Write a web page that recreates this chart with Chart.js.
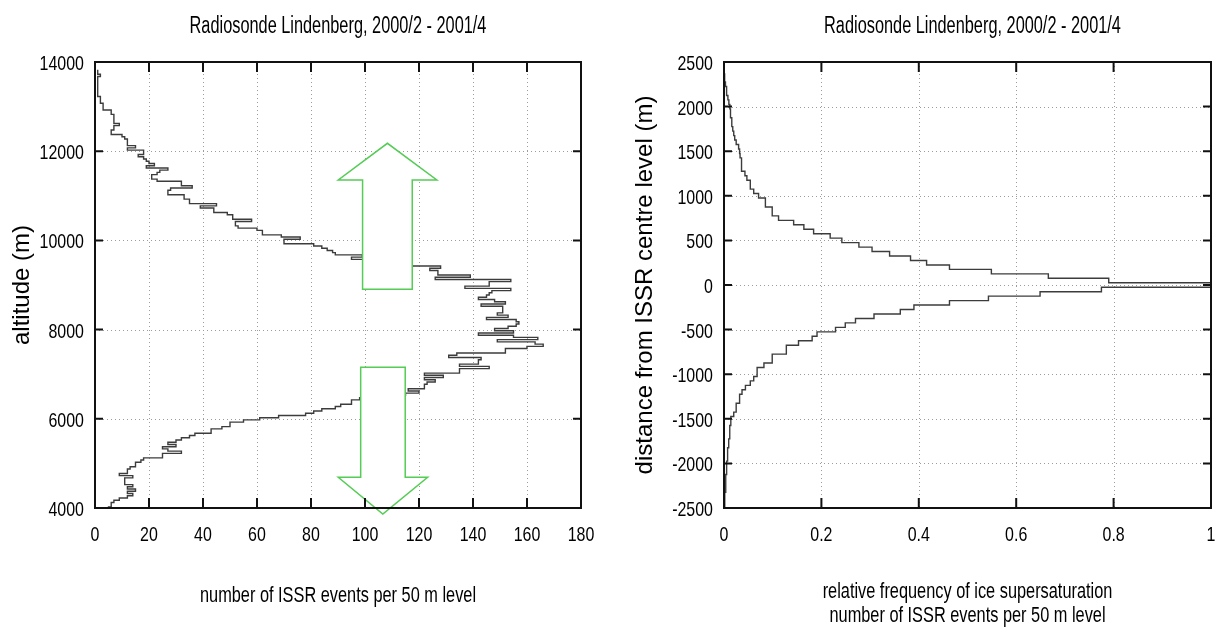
<!DOCTYPE html>
<html>
<head>
<meta charset="utf-8">
<script src="https://cdn.jsdelivr.net/npm/chart.js@4.4.1/dist/chart.umd.min.js"></script>
<style>
  html, body { margin: 0; padding: 0; background: #fff; }
  #wrap { position: relative; width: 1218px; height: 631px; overflow: hidden; }
  .box { position: absolute; top: 0; width: 609px; height: 631px; }
</style>
</head>
<body>
<div id="wrap">
  <div class="box" style="left:0"><canvas id="countChart" width="609" height="631"></canvas></div>
  <div class="box" style="left:609px"><canvas id="freqChart" width="609" height="631"></canvas></div>
</div>
<script>
// 50 m levels
const LEVEL_STEP = 50;

// Left panel: ISSR events per 50 m level, from 4000 m upwards
const countLevelStart = 4000;
const issrCounts = [
    5, 6, 6, 7, 9, 12, 14, 12, 15, 12, 14, 11, 11, 11, 14, 9, 12, 12, 13, 15,              // 4000-4950
    15, 17, 18, 25, 25, 32, 27, 25, 30, 27, 30, 32, 35, 37, 43, 43, 47, 50, 50, 55,        // 5000-5950
    61, 68, 78, 81, 84, 89, 91, 95, 95, 98, 110, 115, 120, 116, 122, 122, 123, 126, 122, 129, // 6000-6950
    122, 135, 135, 146, 135, 142, 142, 143, 131, 134, 152, 152, 160, 166, 163, 149, 164, 155, 142, 155, // 7000-7950
    148, 153, 156, 157, 156, 145, 153, 149, 151, 151, 151, 143, 152, 148, 142, 145, 146, 147, 154, 137, // 8000-8950
    146, 146, 154, 126, 139, 127, 127, 124, 128, 116, 108, 103, 95, 99, 89, 88, 86, 84, 81, 70,  // 9000-9950
    70, 76, 69, 62, 62, 60, 53, 52, 52, 58, 51, 51, 49, 44, 44, 39, 45, 35, 35, 33,        // 10000-10950
    33, 27, 27, 28, 36, 32, 32, 23, 21, 21, 23, 24, 27, 19, 22, 20, 19, 18, 16, 18,        // 11000-11950
    18, 12, 15, 12, 12, 12, 11, 10, 6, 6, 7, 7, 9, 7, 7, 7, 7, 6, 6, 3,                    // 12000-12950
    3, 3, 2, 2, 2, 1, 1, 1, 1, 1, 1, 1, 1, 1, 2, 1, 1                                      // 13000-13800
];

// Right panel: relative frequency of ice supersaturation vs distance from ISSR centre
const distLevelStart = -2500;
const relFreq = [
    0.001, 0.001, 0.002, 0.002, 0.003, 0.003, 0.004, 0.004, 0.005, 0.005,   // -2500..-2050
    0.006, 0.007, 0.007, 0.008, 0.009, 0.010, 0.011, 0.012, 0.012, 0.014,   // -2000..-1550
    0.014, 0.020, 0.025, 0.025, 0.032, 0.032, 0.037, 0.044, 0.054, 0.061,   // -1500..-1050
    0.068, 0.068, 0.082, 0.099, 0.099, 0.128, 0.128, 0.153, 0.181, 0.191,   // -1000..-550
    0.229, 0.249, 0.270, 0.308, 0.362, 0.390, 0.463, 0.543, 0.649, 0.775,   // -500..-50
    1.0,                                                                     // 0
    0.790, 0.666, 0.549, 0.463, 0.416, 0.383, 0.340, 0.304, 0.277, 0.242,   // 50..500
    0.218, 0.184, 0.164, 0.143, 0.112, 0.099, 0.099, 0.085, 0.085, 0.071,   // 550..1000
    0.061, 0.054, 0.054, 0.047, 0.043, 0.036, 0.036, 0.036, 0.033, 0.032,   // 1050..1500
    0.030, 0.025, 0.022, 0.020, 0.018, 0.016, 0.016, 0.014, 0.013, 0.012,   // 1550..2000
    0.010, 0.008, 0.006, 0.005, 0.003, 0.002, 0.001                         // 2050..2350
];

// Green arrows on the left panel, vertices in (events, altitude)
const upArrow = [[99.1, 8904], [99.1, 11354], [90.1, 11354], [108.3, 12177], [126.6, 11354], [117.5, 11354], [117.5, 8904]];
const downArrow = [[98.4, 7155], [98.4, 4688], [90.1, 4688], [106.6, 3865], [123.2, 4688], [114.9, 4688], [114.9, 7155]];

const TITLE = 'Radiosonde Lindenberg, 2000/2 - 2001/4';
const SANS = "'Liberation Sans', Arial, Helvetica, sans-serif";

// no narrow face installed: squeeze Liberation Sans horizontally
function narrowText(ctx, text, x, y, size, squeeze, align) {
    ctx.save();
    ctx.font = size + 'px ' + SANS;
    ctx.fillStyle = '#000';
    ctx.textAlign = align;
    ctx.textBaseline = 'alphabetic';
    ctx.translate(x, y);
    ctx.scale(squeeze, 1);
    ctx.fillText(text, 0, 0);
    ctx.restore();
}

function stepProfile(start, values) {
    const pts = [];
    values.forEach((v, i) => {
        const level = start + i * LEVEL_STEP;
        pts.push({ x: v, y: level - LEVEL_STEP / 2 });
        pts.push({ x: v, y: level + LEVEL_STEP / 2 });
    });
    return pts;
}

function tickText(v) { return String(+v.toFixed(6)); }

// dotted grid, frame, inward ticks and narrow labels like gnuplot
const gnuplotFrame = {
    id: 'gnuplotFrame',
    beforeDatasetsDraw(chart) {
        const { ctx, chartArea: a } = chart;
        const xs = chart.scales.x, ys = chart.scales.y;
        ctx.save();
        ctx.strokeStyle = '#9c9c9c';
        ctx.lineWidth = 1;
        ctx.setLineDash([1, 3]);
        ctx.beginPath();
        xs.ticks.forEach(t => {
            const px = Math.round(xs.getPixelForValue(t.value)) + 0.5;
            if (px <= a.left + 2 || px >= a.right - 2) return;
            ctx.moveTo(px, a.top); ctx.lineTo(px, a.bottom);
        });
        ys.ticks.forEach(t => {
            const py = Math.round(ys.getPixelForValue(t.value)) + 0.5;
            if (py <= a.top + 2 || py >= a.bottom - 2) return;
            ctx.moveTo(a.left, py); ctx.lineTo(a.right, py);
        });
        ctx.stroke();
        ctx.restore();
    },
    afterDraw(chart, args, opts) {
        const { ctx, chartArea: a } = chart;
        const xs = chart.scales.x, ys = chart.scales.y;
        ctx.save();
        ctx.strokeStyle = '#111';
        ctx.lineWidth = 2;
        ctx.strokeRect(a.left, a.top, a.right - a.left, a.bottom - a.top);
        ctx.beginPath();
        xs.ticks.forEach(t => {
            const px = xs.getPixelForValue(t.value);
            ctx.moveTo(px, a.bottom); ctx.lineTo(px, a.bottom - 10);
            ctx.moveTo(px, a.top); ctx.lineTo(px, a.top + 10);
        });
        ys.ticks.forEach(t => {
            const py = ys.getPixelForValue(t.value);
            ctx.moveTo(a.left, py); ctx.lineTo(a.left + 8, py);
            ctx.moveTo(a.right, py); ctx.lineTo(a.right - 8, py);
        });
        ctx.stroke();
        ctx.restore();

        xs.ticks.forEach(t => narrowText(ctx, tickText(t.value), xs.getPixelForValue(t.value), a.bottom + 33, 21, 0.76, 'center'));
        ys.ticks.forEach(t => narrowText(ctx, tickText(t.value), a.left - 11, ys.getPixelForValue(t.value) + 8, 21, 0.76, 'right'));

        const cx = (a.left + a.right) / 2;
        narrowText(ctx, TITLE, cx + opts.titleShift, 33, 23, 0.71, 'center');
        opts.xTitle.forEach((line, i) => narrowText(ctx, line, cx, opts.xTitleBase[i], 21.5, 0.76, 'center'));
    }
};

const arrowPlugin = {
    id: 'arrows',
    afterDatasetsDraw(chart) {
        const { ctx } = chart;
        const xs = chart.scales.x, ys = chart.scales.y;
        ctx.save();
        ctx.fillStyle = '#fff';
        ctx.strokeStyle = '#55cc55';
        ctx.lineWidth = 1.5;
        [upArrow, downArrow].forEach(shape => {
            ctx.beginPath();
            shape.forEach(([v, alt], i) => {
                const px = xs.getPixelForValue(v), py = ys.getPixelForValue(alt);
                if (i === 0) ctx.moveTo(px, py); else ctx.lineTo(px, py);
            });
            ctx.closePath();
            ctx.fill();
            ctx.stroke();
        });
        ctx.restore();
    }
};

function buildOptions(cfg) {
    return {
        responsive: false,
        animation: false,
        layout: { padding: { left: 0, right: cfg.padRight, top: 62, bottom: 0 } },
        plugins: {
            legend: { display: false },
            tooltip: { enabled: false },
            gnuplotFrame: { xTitle: cfg.xTitle, xTitleBase: cfg.xTitleBase, titleShift: cfg.titleShift }
        },
        scales: {
            x: {
                type: 'linear', min: cfg.xMin, max: cfg.xMax,
                ticks: { stepSize: cfg.xStep, display: false },
                grid: { display: false },
                border: { display: false },
                afterFit: s => { s.height = 123; }
            },
            y: {
                type: 'linear', min: cfg.yMin, max: cfg.yMax,
                ticks: { stepSize: cfg.yStep, display: false },
                grid: { display: false },
                border: { display: false },
                title: {
                    display: true, text: cfg.yTitle, color: '#000',
                    font: { family: SANS, size: 24, lineHeight: 1 },
                    padding: { top: cfg.yTitlePad, bottom: 0 }
                },
                afterFit: s => { s.width = cfg.yWidth; }
            }
        }
    };
}

new Chart(document.getElementById('countChart'), {
    type: 'scatter',
    data: {
        datasets: [{
            data: stepProfile(countLevelStart, issrCounts),
            showLine: true, borderColor: '#3c3c3c', borderWidth: 1.4, pointRadius: 0, tension: 0
        }]
    },
    options: buildOptions({
        xMin: 0, xMax: 180, xStep: 20, yMin: 4000, yMax: 14000, yStep: 2000,
        xTitle: ['number of ISSR events per 50 m level'], xTitleBase: [601.5], titleShift: 0,
        yTitle: 'altitude (m)', yTitlePad: 10, yWidth: 95, padRight: 28
    }),
    plugins: [gnuplotFrame, arrowPlugin]
});

new Chart(document.getElementById('freqChart'), {
    type: 'scatter',
    data: {
        datasets: [{
            data: stepProfile(distLevelStart, relFreq),
            showLine: true, borderColor: '#3c3c3c', borderWidth: 1.4, pointRadius: 0, tension: 0
        }]
    },
    options: buildOptions({
        xMin: 0, xMax: 1, xStep: 0.2, yMin: -2500, yMax: 2500, yStep: 500,
        xTitle: ['relative frequency of ice supersaturation', 'number of ISSR events per 50 m level'],
        xTitleBase: [598, 622], titleShift: 5,
        yTitle: 'distance from ISSR centre level (m)', yTitlePad: 24, yWidth: 115, padRight: 7
    }),
    plugins: [gnuplotFrame]
});
</script>
</body>
</html>
